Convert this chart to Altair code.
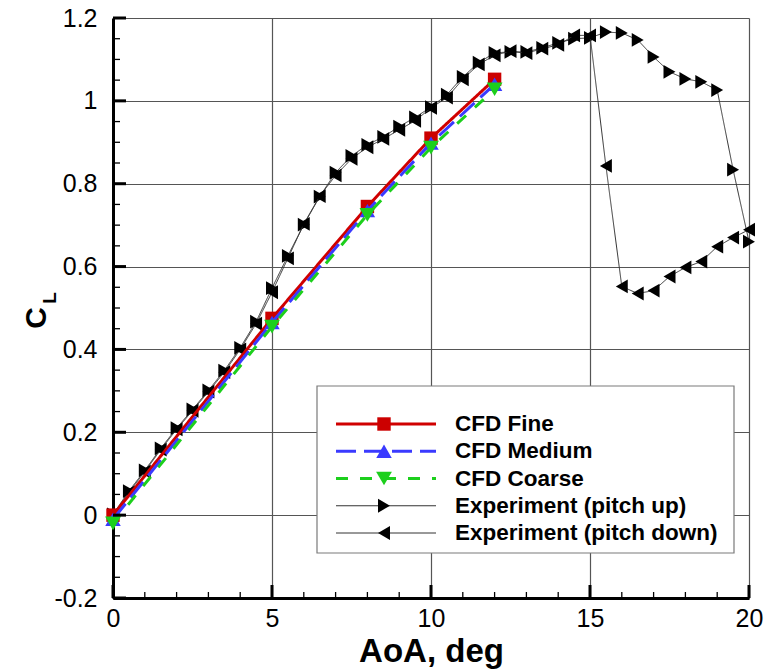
import altair as alt
import pandas as pd

# ---------------- data ----------------
cfd_aoa = [0, 5, 8, 10, 12]
cfd_fine = [0.0, 0.475, 0.745, 0.91, 1.052]
cfd_medium = [-0.01, 0.465, 0.735, 0.898, 1.04]
cfd_coarse = [-0.02, 0.455, 0.725, 0.887, 1.028]

up_aoa = [0, 0.5, 1, 1.5, 2, 2.5, 3, 3.5, 4, 4.5, 5, 5.5, 6, 6.5, 7, 7.5, 8, 8.5, 9, 9.5,
          10, 10.5, 11, 11.5, 12, 12.5, 13, 13.5, 14, 14.5, 15, 15.5, 16, 16.5, 17, 17.5,
          18, 18.5, 19, 19.5, 20]
up_cl = [0.002, 0.058, 0.108, 0.161, 0.21, 0.255, 0.301, 0.349, 0.404, 0.467, 0.548, 0.626,
         0.701, 0.769, 0.827, 0.867, 0.894, 0.913, 0.938, 0.96, 0.985, 1.015, 1.058, 1.092,
         1.116, 1.118, 1.118, 1.128, 1.14, 1.15, 1.152, 1.166, 1.164, 1.147, 1.106, 1.07,
         1.053, 1.046, 1.026, 0.834, 0.66]

down_aoa = [20, 19.5, 19, 18.5, 18, 17.5, 17, 16.5, 16, 15.5, 15, 14.5, 14, 13.5, 13, 12.5,
            12, 11.5, 11, 10.5, 10, 9.5, 9, 8.5, 8, 7.5, 7, 6.5, 6, 5.5, 5, 4.5, 4, 3.5, 3,
            2.5, 2, 1.5, 1, 0.5, 0]
down_cl = [0.689, 0.67, 0.648, 0.612, 0.598, 0.576, 0.542, 0.535, 0.552, 0.843, 1.158, 1.158,
           1.135, 1.126, 1.115, 1.12, 1.11, 1.088, 1.052, 1.008, 0.983, 0.952, 0.93, 0.908,
           0.888, 0.86, 0.82, 0.77, 0.703, 0.62, 0.538, 0.462, 0.40, 0.345, 0.298, 0.252,
           0.207, 0.158, 0.105, 0.055, 0.0]

series_names = ["CFD Fine", "CFD Medium", "CFD Coarse",
                "Experiment (pitch up)", "Experiment (pitch down)"]
series_colors = ["#d00000", "#3a3aff", "#1ccf1c", "#333333", "#333333"]
series_fill = ["#cc0000", "#3a3aff", "#1ccf1c", "#000000", "#000000"]
series_dash = [[1, 0], [20, 8], [12, 12], [1, 0], [1, 0]]
series_shape = ["square", "triangle-up", "triangle-down", "triangle-right", "triangle-left"]
series_width = [3, 3, 3, 1, 1]
series_msize = [180, 240, 250, 190, 190]

x_major = [0, 5, 10, 15, 20]
x_minor = list(range(0, 21))
y_major = [-0.2, 0, 0.2, 0.4, 0.6, 0.8, 1.0, 1.2]
y_minor = [round(-0.2 + 0.05 * i, 2) for i in range(29)]

W, H = 636, 580
FONT = "Liberation Sans"

xs = alt.Scale(domain=[0, 20], nice=False, zero=False)
ys = alt.Scale(domain=[-0.2, 1.2], nice=False, zero=False)

# ---------------- data marks ----------------
def series_layers(aoa, cl, i):
    df = pd.DataFrame({"aoa": aoa, "cl": cl})
    base = alt.Chart(df)
    line = base.mark_line(
        color=series_colors[i], strokeWidth=series_width[i],
        strokeDash=series_dash[i]
    ).encode(
        x=alt.X("aoa:Q", scale=xs, axis=alt.Axis(
            values=x_major, title="AoA, deg", grid=True)),
        y=alt.Y("cl:Q", scale=ys, axis=alt.Axis(
            values=y_major, title=None, grid=True, format="~g",
            labelExpr="replace(datum.label, '\u2212', '-')")),
    )
    pts = base.mark_point(
        shape=series_shape[i], filled=True, fill=series_fill[i],
        size=series_msize[i], opacity=1, strokeWidth=0
    ).encode(x=alt.X("aoa:Q", scale=xs), y=alt.Y("cl:Q", scale=ys))
    return [line, pts]

layers = []
layers += series_layers(up_aoa, up_cl, 3)
layers += series_layers(down_aoa, down_cl, 4)
layers += series_layers(cfd_aoa, cfd_fine, 0)
layers += series_layers(cfd_aoa, cfd_medium, 1)
layers += series_layers(cfd_aoa, cfd_coarse, 2)

# inward ticks
def xticks(vals, length, width):
    return alt.Chart(pd.DataFrame({"v": vals})).mark_rule(
        color="black", strokeWidth=width).encode(
        x=alt.X("v:Q", scale=xs), y=alt.value(H), y2=alt.value(H - length))

def yticks(vals, length, width):
    return alt.Chart(pd.DataFrame({"v": vals})).mark_rule(
        color="black", strokeWidth=width).encode(
        y=alt.Y("v:Q", scale=ys), x=alt.value(0), x2=alt.value(length))

layers += [xticks(x_minor, 6, 1.3), xticks(x_major, 13, 3),
           yticks(y_minor, 7, 1.3), yticks(y_major, 13, 3)]

# y-axis title  C_L
ytitle_c = alt.Chart(pd.DataFrame({"t": ["C"]})).mark_text(
    font=FONT, fontSize=30, fontWeight="bold", angle=270,
    align="center", baseline="middle", color="black"
).encode(text="t:N", x=alt.value(-76), y=alt.value(300))
ytitle_l = alt.Chart(pd.DataFrame({"t": ["L"]})).mark_text(
    font=FONT, fontSize=19, fontWeight="bold", angle=270,
    align="center", baseline="middle", color="black"
).encode(text="t:N", x=alt.value(-63), y=alt.value(280))
layers += [ytitle_c, ytitle_l]

main = alt.layer(*layers)

# ---------------- legend ----------------
leg_df = pd.DataFrame({"series": series_names})
ly = alt.Y("series:N", scale=alt.Scale(domain=series_names, type="point",
                                         range=[406, 515], padding=0), axis=None)

leg_layers = [alt.Chart(pd.DataFrame({"b": [1]})).mark_rect(
    fill="white", stroke="#7a7a7a", strokeWidth=1.2
).encode(x=alt.value(204), x2=alt.value(621), y=alt.value(368), y2=alt.value(535))]

for i, name in enumerate(series_names):
    row = alt.Chart(leg_df).transform_filter(alt.datum.series == name)
    leg_layers.append(row.mark_rule(
        color=series_colors[i], strokeWidth=series_width[i], strokeDash=series_dash[i]
    ).encode(x=alt.value(223), x2=alt.value(323), y=ly))
    leg_layers.append(row.mark_point(
        shape=series_shape[i], filled=True, fill=series_fill[i], opacity=1,
        strokeWidth=0, size=series_msize[i]
    ).encode(x=alt.value(271), y=ly))

leg_layers.append(alt.Chart(leg_df).mark_text(
    font=FONT, fontSize=22.5, fontWeight="bold", align="left", baseline="middle", color="black"
).encode(x=alt.value(342), y=ly, text="series:N"))

legend = alt.layer(*leg_layers)

chart = alt.layer(main, legend).resolve_scale(
    y="independent"
).properties(
    width=W, height=H,
    padding={"left": 113, "top": 18, "right": 17, "bottom": 71},
    autosize=alt.AutoSizeParams(type="none"),
    background="white",
).configure_view(stroke=None).configure_axis(
    labelFont=FONT, labelFontSize=25, labelColor="black",
    titleFont=FONT, titleFontSize=33, titleFontWeight="bold", titleColor="black",
    domainColor="black", domainWidth=3, ticks=False, tickSize=0,
    gridColor="#555555", gridWidth=1.2, gridOpacity=1,
).configure_axisX(labelPadding=8, titlePadding=4, labelFlush=False
).configure_axisY(labelPadding=16)

chart.save("out.html", embed_options={"renderer": "svg", "actions": False})
